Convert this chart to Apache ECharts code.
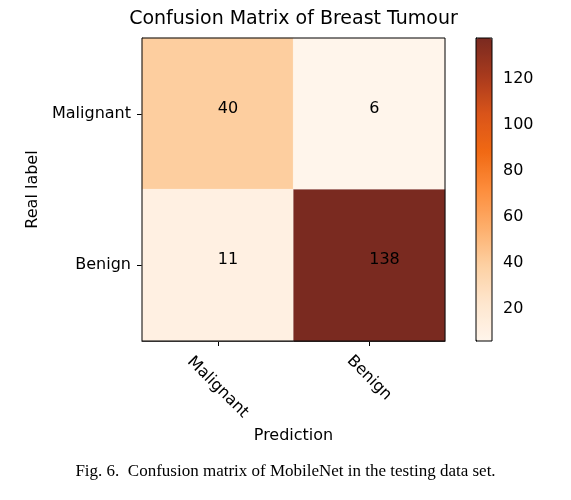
<!DOCTYPE html>
<html>
<head>
<meta charset="utf-8">
<script src="https://cdn.jsdelivr.net/npm/echarts@6/dist/echarts.min.js"></script>
<style>
  html, body { margin: 0; padding: 0; background: #fff; }
  #chart { width: 571px; height: 500px; }
</style>
</head>
<body>
<div id="chart"></div>
<script>
// data
var predLabels = ['Malignant', 'Benign'];
var realLabels = ['Malignant', 'Benign'];
// [predIndex, realIndex, count]
var counts = [
    [0, 0, 40], [1, 0, 6],
    [0, 1, 11], [1, 1, 138]
];
var colorbarTicks = [20, 40, 60, 80, 100, 120];
var vMin = 6, vMax = 138;

// matplotlib "Oranges"-like ramp
var oranges = ['#fff5eb', '#fee6ce', '#fdd0a2', '#fdae6b', '#fd8d3c',
               '#f16913', '#d9541a', '#a83a1d', '#7a2a20'];

var font = 'DejaVu Sans';
var myChart = echarts.init(document.getElementById('chart'));

var option = {
    backgroundColor: '#fff',
    textStyle: { fontFamily: font, color: '#000' },
    title: {
        text: 'Confusion Matrix of Breast Tumour',
        left: 293.5,
        textAlign: 'center',
        top: 10,
        padding: 0,
        textStyle: { fontFamily: font, fontSize: 19, fontWeight: 'normal', color: '#000' }
    },
    graphic: [{
        type: 'text',
        left: 'center',
        top: 463,
        style: {
            text: 'Fig. 6.  Confusion matrix of MobileNet in the testing data set.',
            font: '17px "Liberation Serif", "Times New Roman", serif',
            fill: '#000'
        }
    }],
    grid: [
        { left: 142, top: 38, width: 303, height: 303,
          show: true, borderColor: '#000', borderWidth: 1, backgroundColor: 'transparent', z: 5 },
        { left: 476, top: 38, width: 16, height: 303,
          show: true, borderColor: '#000', borderWidth: 1, backgroundColor: 'transparent', z: 5 }
    ],
    xAxis: [
        {
            gridIndex: 0,
            type: 'category',
            data: predLabels,
            name: 'Prediction',
            nameLocation: 'middle',
            nameGap: 83,
            nameTextStyle: { fontFamily: font, fontSize: 16, color: '#000' },
            axisLine: { show: true, lineStyle: { color: '#000', width: 1 } },
            axisTick: { show: true, alignWithLabel: true, length: 5, lineStyle: { color: '#000' } },
            axisLabel: {
                rotate: -45,
                align: 'center',
                verticalAlign: 'middle',
                margin: 37,
                fontFamily: font, fontSize: 16, color: '#000',
                formatter: function (v) { return v === 'Malignant' ? '{m|' + v + '}' : '{b|' + v + '}'; },
                rich: {
                    m: { fontFamily: font, fontSize: 16, color: '#000', padding: [13, 0, 0, 13] },
                    b: { fontFamily: font, fontSize: 16, color: '#000' }
                }
            },
            splitLine: { show: false }
        },
        {
            gridIndex: 1,
            type: 'value',
            min: 0, max: 1,
            show: false
        }
    ],
    yAxis: [
        {
            gridIndex: 0,
            type: 'category',
            data: realLabels,
            inverse: true,
            name: 'Real label',
            nameLocation: 'middle',
            nameGap: 95,
            nameTextStyle: { fontFamily: font, fontSize: 16, color: '#000' },
            axisLine: { show: true, lineStyle: { color: '#000', width: 1 } },
            axisTick: { show: true, alignWithLabel: true, length: 5, lineStyle: { color: '#000' } },
            axisLabel: { margin: 11, fontFamily: font, fontSize: 16, color: '#000' },
            splitLine: { show: false }
        },
        {
            gridIndex: 1,
            type: 'value',
            position: 'right',
            min: vMin, max: vMax,
            axisLine: { show: true, lineStyle: { color: '#000', width: 1 } },
            axisTick: { show: true, length: 5, customValues: colorbarTicks, lineStyle: { color: '#000' } },
            axisLabel: { margin: 11, customValues: colorbarTicks, fontFamily: font, fontSize: 16, color: '#000' },
            splitLine: { show: false }
        }
    ],
    visualMap: {
        type: 'continuous',
        min: vMin,
        max: vMax,
        calculable: false,
        seriesIndex: 0,
        left: 476,
        top: 38,
        itemWidth: 16,
        itemHeight: 303,
        padding: 0,
        text: null,
        showLabel: false,
        inRange: { color: oranges },
        z: 2
    },
    series: [{
        type: 'heatmap',
        xAxisIndex: 0,
        yAxisIndex: 0,
        data: counts,
        itemStyle: { borderColor: 'rgba(255,255,255,0.5)', borderWidth: 0.5 },
        label: {
            show: true,
            align: 'left',
            verticalAlign: 'bottom',
            offset: [0, 3],
            fontFamily: font,
            fontSize: 16,
            color: '#000'
        },
        emphasis: { disabled: true }
    }]
};
myChart.setOption(option);
</script>
</body>
</html>
